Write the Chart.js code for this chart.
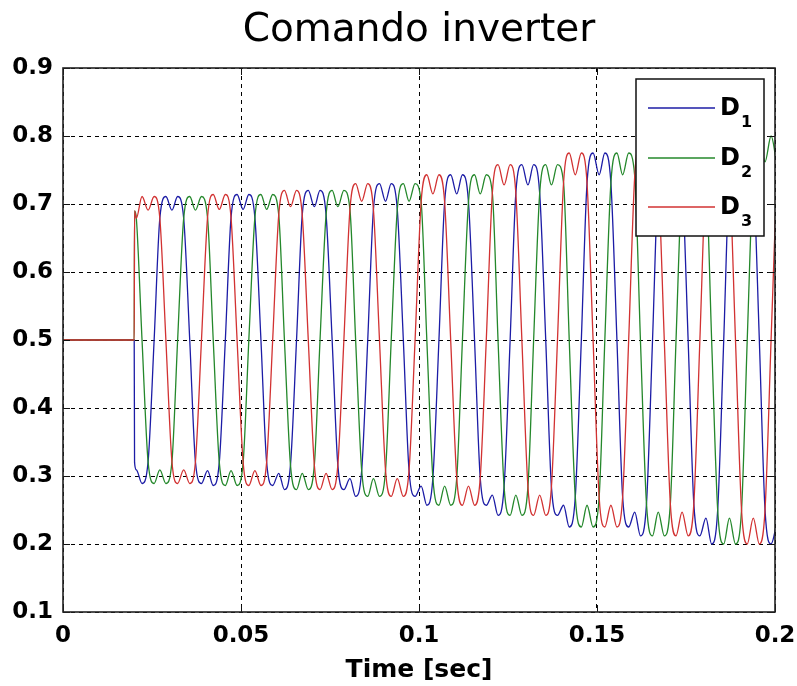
<!DOCTYPE html>
<html>
<head>
<meta charset="utf-8">
<title>Comando inverter</title>
<script src="https://cdn.jsdelivr.net/npm/chart.js@4.4.1/dist/chart.umd.min.js"></script>
<style>
  html, body { margin: 0; padding: 0; background: #fff; }
  #wrap { width: 797px; height: 686px; }
</style>
</head>
<body>
<div id="wrap"><canvas id="chart" width="797" height="686"></canvas></div>
<script>
// ---- data ----
const chartTitle = 'Comando inverter';
const seriesNames = ['D', 'D', 'D'];
const seriesSubs = ['1', '2', '3'];
const seriesColors = ['#1c1ca6', '#24882b', '#d23232'];

const xTicks = [0, 0.05, 0.1, 0.15, 0.2];
const xTickLabels = ['0', '0.05', '0.1', '0.15', '0.2'];
const yTicks = [0.1, 0.2, 0.3, 0.4, 0.5, 0.6, 0.7, 0.8, 0.9];
const yTickLabels = ['0.1', '0.2', '0.3', '0.4', '0.5', '0.6', '0.7', '0.8', '0.9'];

// flat start, then the step at t = 0.02 s
const startTime = [0, 0.02, 0.0201];
const d1Start = [0.5, 0.5, 0.32];
const d2Start = [0.5, 0.5, 0.69];
const d3Start = [0.5, 0.5, 0.69];

// sample times after the step (one row = one 20 ms period)
const timeGrid = [
  0.0206, 0.0222, 0.0239, 0.0256, 0.0272, 0.0289, 0.0306, 0.0322, 0.0339, 0.0356, 0.0372, 0.0389,
  0.0406, 0.0422, 0.0439, 0.0456, 0.0472, 0.0489, 0.0506, 0.0522, 0.0539, 0.0556, 0.0572, 0.0589,
  0.0606, 0.0622, 0.0639, 0.0656, 0.0672, 0.0689, 0.0706, 0.0722, 0.0739, 0.0756, 0.0772, 0.0789,
  0.0806, 0.0822, 0.0839, 0.0856, 0.0872, 0.0889, 0.0906, 0.0922, 0.0939, 0.0956, 0.0972, 0.0989,
  0.1006, 0.1022, 0.1039, 0.1056, 0.1072, 0.1089, 0.1106, 0.1122, 0.1139, 0.1156, 0.1172, 0.1189,
  0.1206, 0.1222, 0.1239, 0.1256, 0.1272, 0.1289, 0.1306, 0.1322, 0.1339, 0.1356, 0.1372, 0.1389,
  0.1406, 0.1422, 0.1439, 0.1456, 0.1472, 0.1489, 0.1506, 0.1522, 0.1539, 0.1556, 0.1572, 0.1589,
  0.1606, 0.1622, 0.1639, 0.1656, 0.1672, 0.1689, 0.1706, 0.1722, 0.1739, 0.1756, 0.1772, 0.1789,
  0.1806, 0.1822, 0.1839, 0.1856, 0.1872, 0.1889, 0.1906, 0.1922, 0.1939, 0.1956, 0.1972, 0.1989,
  0.2006
];

const d1Values = [
  0.309, 0.289, 0.321, 0.5, 0.679, 0.711, 0.691, 0.711, 0.679, 0.5, 0.321, 0.289,
  0.308, 0.286, 0.320, 0.5, 0.680, 0.714, 0.692, 0.714, 0.680, 0.5, 0.320, 0.286,
  0.304, 0.280, 0.316, 0.5, 0.684, 0.720, 0.696, 0.720, 0.684, 0.5, 0.316, 0.280,
  0.296, 0.270, 0.308, 0.5, 0.692, 0.730, 0.704, 0.730, 0.692, 0.5, 0.308, 0.270,
  0.285, 0.257, 0.297, 0.5, 0.703, 0.743, 0.715, 0.743, 0.703, 0.5, 0.297, 0.257,
  0.272, 0.242, 0.284, 0.5, 0.716, 0.758, 0.728, 0.758, 0.716, 0.5, 0.284, 0.242,
  0.257, 0.225, 0.269, 0.5, 0.731, 0.775, 0.743, 0.775, 0.731, 0.5, 0.269, 0.225,
  0.247, 0.212, 0.259, 0.5, 0.741, 0.788, 0.753, 0.788, 0.741, 0.5, 0.259, 0.212,
  0.238, 0.200, 0.250, 0.5, 0.750, 0.800, 0.762, 0.800, 0.750, 0.5, 0.250, 0.200,
  0.233
];

const d2Values = [
  0.679, 0.5, 0.321, 0.289, 0.309, 0.289, 0.321, 0.5, 0.679, 0.711, 0.691, 0.711,
  0.680, 0.5, 0.320, 0.286, 0.308, 0.286, 0.320, 0.5, 0.680, 0.714, 0.692, 0.714,
  0.684, 0.5, 0.316, 0.280, 0.304, 0.280, 0.316, 0.5, 0.684, 0.720, 0.696, 0.720,
  0.692, 0.5, 0.308, 0.270, 0.296, 0.270, 0.308, 0.5, 0.692, 0.730, 0.704, 0.730,
  0.703, 0.5, 0.297, 0.257, 0.285, 0.257, 0.297, 0.5, 0.703, 0.743, 0.715, 0.743,
  0.716, 0.5, 0.284, 0.242, 0.272, 0.242, 0.284, 0.5, 0.716, 0.758, 0.728, 0.758,
  0.731, 0.5, 0.269, 0.225, 0.257, 0.225, 0.269, 0.5, 0.731, 0.775, 0.743, 0.775,
  0.741, 0.5, 0.259, 0.212, 0.247, 0.212, 0.259, 0.5, 0.741, 0.788, 0.753, 0.788,
  0.750, 0.5, 0.250, 0.200, 0.238, 0.200, 0.250, 0.5, 0.750, 0.800, 0.762, 0.800,
  0.755
];

const d3Values = [
  0.679, 0.711, 0.691, 0.711, 0.679, 0.5, 0.321, 0.289, 0.309, 0.289, 0.321, 0.5,
  0.680, 0.714, 0.692, 0.714, 0.680, 0.5, 0.320, 0.286, 0.308, 0.286, 0.320, 0.5,
  0.684, 0.720, 0.696, 0.720, 0.684, 0.5, 0.316, 0.280, 0.304, 0.280, 0.316, 0.5,
  0.692, 0.730, 0.704, 0.730, 0.692, 0.5, 0.308, 0.270, 0.296, 0.270, 0.308, 0.5,
  0.703, 0.743, 0.715, 0.743, 0.703, 0.5, 0.297, 0.257, 0.285, 0.257, 0.297, 0.5,
  0.716, 0.758, 0.728, 0.758, 0.716, 0.5, 0.284, 0.242, 0.272, 0.242, 0.284, 0.5,
  0.731, 0.775, 0.743, 0.775, 0.731, 0.5, 0.269, 0.225, 0.257, 0.225, 0.269, 0.5,
  0.741, 0.788, 0.753, 0.788, 0.741, 0.5, 0.259, 0.212, 0.247, 0.212, 0.259, 0.5,
  0.750, 0.800, 0.762, 0.800, 0.750, 0.5, 0.250, 0.200, 0.238, 0.200, 0.250, 0.5,
  0.755
];

function toPoints(start, values) {
  return startTime.map((t, i) => ({ x: t, y: start[i] }))
    .concat(timeGrid.map((t, i) => ({ x: t, y: values[i] })));
}

// ---- title centred over the axes, like matlab does ----
const titlePlugin = {
  id: 'axesTitle',
  afterDraw(chart) {
    const { ctx, chartArea: a } = chart;
    ctx.save();
    ctx.fillStyle = '#000';
    ctx.font = '39px "DejaVu Sans"';
    ctx.textAlign = 'center';
    ctx.textBaseline = 'middle';
    ctx.fillText(chartTitle, (a.left + a.right) / 2, 31);
    ctx.restore();
  }
};

// ---- matlab style box with inward ticks ----
const framePlugin = {
  id: 'matlabFrame',
  afterDatasetsDraw(chart) {
    const { ctx, chartArea: a, scales } = chart;
    ctx.save();
    ctx.strokeStyle = '#111';
    ctx.lineWidth = 1;
    ctx.setLineDash([]);
    ctx.beginPath();
    xTicks.forEach(v => {
      const x = Math.round(scales.x.getPixelForValue(v)) + 0.5;
      ctx.moveTo(x, a.bottom); ctx.lineTo(x, a.bottom - 7);
      ctx.moveTo(x, a.top); ctx.lineTo(x, a.top + 7);
    });
    yTicks.forEach(v => {
      const y = Math.round(scales.y.getPixelForValue(v)) + 0.5;
      ctx.moveTo(a.left, y); ctx.lineTo(a.left + 7, y);
      ctx.moveTo(a.right, y); ctx.lineTo(a.right - 7, y);
    });
    ctx.stroke();
    ctx.lineWidth = 1.6;
    ctx.strokeStyle = '#222';
    ctx.strokeRect(a.left, a.top, a.right - a.left, a.bottom - a.top);
    ctx.restore();
  }
};

// ---- legend box in the upper right corner ----
const legendPlugin = {
  id: 'boxLegend',
  afterDraw(chart) {
    const { ctx, chartArea: a } = chart;
    const left = a.right - 139;
    const top = a.top + 11;
    const w = 128, h = 157;
    const rows = [29, 79, 128];
    ctx.save();
    ctx.fillStyle = '#fff';
    ctx.fillRect(left, top, w, h);
    ctx.strokeStyle = '#111';
    ctx.lineWidth = 1.5;
    ctx.strokeRect(left, top, w, h);
    rows.forEach((dy, i) => {
      const y = top + dy;
      ctx.strokeStyle = seriesColors[i];
      ctx.lineWidth = 1.3;
      ctx.beginPath();
      ctx.moveTo(left + 12, y);
      ctx.lineTo(left + 79, y);
      ctx.stroke();
      ctx.fillStyle = '#000';
      ctx.textBaseline = 'alphabetic';
      ctx.textAlign = 'left';
      ctx.font = 'bold 24px "DejaVu Sans"';
      ctx.fillText(seriesNames[i], left + 84, y + 7);
      const dw = ctx.measureText(seriesNames[i]).width;
      ctx.font = 'bold 16px "DejaVu Sans"';
      ctx.fillText(seriesSubs[i], left + 85 + dw, y + 19);
    });
    ctx.restore();
  }
};

Chart.defaults.font.family = '"DejaVu Sans", sans-serif';
Chart.defaults.color = '#000';

const gridStyle = { color: '#000', lineWidth: 1, drawTicks: false };

new Chart(document.getElementById('chart'), {
  type: 'line',
  data: {
    datasets: [
      { label: 'D1', data: toPoints(d1Start, d1Values), borderColor: seriesColors[0], order: 3 },
      { label: 'D2', data: toPoints(d2Start, d2Values), borderColor: seriesColors[1], order: 2 },
      { label: 'D3', data: toPoints(d3Start, d3Values), borderColor: seriesColors[2], order: 1 }
    ]
  },
  options: {
    responsive: false,
    animation: false,
    elements: {
      line: { borderWidth: 1.3, cubicInterpolationMode: 'monotone', fill: false },
      point: { radius: 0, hoverRadius: 0 }
    },
    layout: { padding: { top: 68, right: 22, bottom: 0, left: 0 } },
    plugins: {
      legend: { display: false },
      tooltip: { enabled: false },
      title: { display: false }
    },
    scales: {
      x: {
        type: 'linear',
        min: 0,
        max: 0.2,
        afterBuildTicks: s => { s.ticks = xTicks.map(v => ({ value: v })); },
        afterFit: s => { s.height = 74; s.paddingLeft = 0; s.paddingRight = 0; },
        ticks: {
          autoSkip: false,
          maxRotation: 0,
          padding: 10,
          font: { size: 23, weight: 'bold' },
          callback: (v, i) => xTickLabels[i]
        },
        grid: gridStyle,
        border: { display: false, dash: [4, 4] },
        title: {
          display: true,
          text: 'Time [sec]',
          font: { size: 25, weight: 'bold' },
          padding: { top: 0, bottom: 1 }
        }
      },
      y: {
        type: 'linear',
        min: 0.1,
        max: 0.9,
        afterBuildTicks: s => { s.ticks = yTicks.map(v => ({ value: v })); },
        afterFit: s => { s.width = 63; s.paddingTop = 0; s.paddingBottom = 0; },
        ticks: {
          autoSkip: false,
          padding: 10,
          font: { size: 23, weight: 'bold' },
          callback: (v, i) => yTickLabels[i]
        },
        grid: gridStyle,
        border: { display: false, dash: [4, 4] }
      }
    }
  },
  plugins: [framePlugin, legendPlugin, titlePlugin]
});
</script>
</body>
</html>
